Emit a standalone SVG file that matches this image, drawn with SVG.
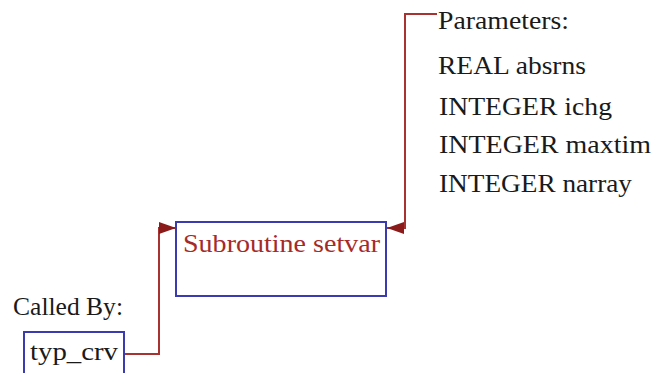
<svg xmlns="http://www.w3.org/2000/svg" width="652" height="373" viewBox="0 0 652 373">
<defs>
<style>
text{font-size:26px;fill:#1a1a1a}
.r{fill:#a52a2a}
.box{fill:none;stroke:#3b3bb0;stroke-width:2}
.c{fill:none;stroke:#a83232;stroke-width:2}
</style>
<marker id="ah" viewBox="0 0 17 12" refX="17" refY="6" markerWidth="17" markerHeight="12" markerUnits="userSpaceOnUse" orient="auto">
<path d="M0,0 L17,6 L0,12 z" fill="#8b1a1a"/>
</marker>
</defs>
<rect width="652" height="373" fill="#ffffff"/>
<g id="connectors">
<polyline class="c" points="124,354 159,354 159,228 176,228" marker-end="url(#ah)"/>
<polyline class="c" points="437,14 405,14 405,228 387,228" marker-end="url(#ah)"/>
</g>
<g font-family="Liberation Serif, Times New Roman, serif">
<g id="setvar">
<rect class="box" x="176" y="222" width="210" height="74"/>
<text class="r" x="183" y="252" textLength="197" lengthAdjust="spacingAndGlyphs">Subroutine setvar</text>
</g>
<g id="params">
<text x="438" y="29" textLength="131" lengthAdjust="spacingAndGlyphs">Parameters:</text>
<text x="438" y="74" textLength="148" lengthAdjust="spacingAndGlyphs">REAL absrns</text>
<text x="439" y="115" textLength="173" lengthAdjust="spacingAndGlyphs">INTEGER ichg</text>
<text x="439" y="153" textLength="212" lengthAdjust="spacingAndGlyphs">INTEGER maxtim</text>
<text x="439" y="192" textLength="193" lengthAdjust="spacingAndGlyphs">INTEGER narray</text>
</g>
<g id="calledby">
<text x="13" y="315" textLength="110" lengthAdjust="spacingAndGlyphs">Called By:</text>
</g>
<g id="typ_crv">
<rect class="box" x="24" y="332" width="100" height="50"/>
<text x="30" y="360" textLength="88" lengthAdjust="spacingAndGlyphs">typ_crv</text>
</g>
</g>
</svg>
